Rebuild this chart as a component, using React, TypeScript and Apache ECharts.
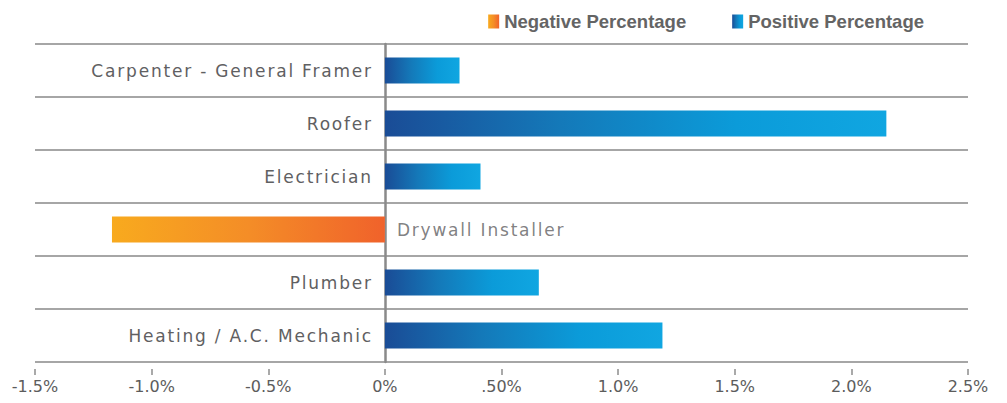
import React, { useEffect, useRef } from "react";
import * as echarts from "echarts";

const categories = [
  "Carpenter - General Framer",
  "Roofer",
  "Electrician",
  "Drywall Installer",
  "Plumber",
  "Heating / A.C. Mechanic",
];
const negativeValues: (number | string)[] = ["-", "-", "-", -1.17, "-", "-"];
const positiveValues: (number | string)[] = [0.32, 2.15, 0.41, "-", 0.66, 1.19];
const tickLabels = ["-1.5%", "-1.0%", "-0.5%", "0%", ".50%", "1.0%", "1.5%", "2.0%", "2.5%"];
const axisMin = -1.5;
const axisMax = 2.5;
const axisStep = 0.5;

const W = 1007;
const H = 403;
const GRID = { left: 35, right: 39, top: 44, bottom: 41 };

export default function App() {
  const ref = useRef<HTMLDivElement>(null);
  useEffect(() => {
    if (!ref.current) return;
    const chart = echarts.init(ref.current, undefined, { renderer: "svg" });
    const blueGrad = new echarts.graphic.LinearGradient(0, 0, 1, 0, [
      { offset: 0, color: "#1a4c96" },
      { offset: 0.35, color: "#1479b9" },
      { offset: 0.7, color: "#0b9bd9" },
      { offset: 1, color: "#10a6e1" },
    ]);
    const orangeGrad = new echarts.graphic.LinearGradient(0, 0, 1, 0, [
      { offset: 0, color: "#f8aa1e" },
      { offset: 0.5, color: "#f48d27" },
      { offset: 1, color: "#f0622b" },
    ]);
    const labelIdx = categories.map((c, i) => (negativeValues[i] !== "-" ? i : -1)).filter((i) => i >= 0);
    const fontFam = "'DejaVu Sans', sans-serif";
    const gridWidth = W - GRID.left - GRID.right;
    const zeroOffset = -(gridWidth * (0 - axisMin)) / (axisMax - axisMin);
    chart.setOption({
      animation: false,
      legend: {
        top: 7,
        right: 78,
        itemWidth: 11,
        itemHeight: 14,
        itemGap: 46,
        icon: "rect",
        textStyle: {
          color: "#646464",
          fontWeight: "bold",
          fontSize: 18.5,
          fontFamily: "'Liberation Sans', Arial, sans-serif",
        },
        data: ["Negative Percentage", "Positive Percentage"],
      },
      grid: { ...GRID, containLabel: false, outerBoundsMode: "none" },
      xAxis: {
        type: "value",
        min: axisMin,
        max: axisMax,
        interval: axisStep,
        offset: 7,
        axisLine: { show: false },
        axisTick: { show: true, length: 6, lineStyle: { color: "#8c8c8c", width: 1.5 } },
        splitLine: { show: false },
        axisLabel: {
          margin: 9,
          color: "#5c5c5c",
          fontSize: 16,
          fontFamily: fontFam,
          formatter: (v: number) => tickLabels[Math.round((v - axisMin) / axisStep)] ?? "",
        },
      },
      yAxis: {
        type: "category",
        inverse: true,
        data: categories,
        offset: zeroOffset,
        axisLine: { show: true, onZero: false, lineStyle: { color: "#8a8a8a", width: 2.5 } },
        axisTick: { show: false },
        splitLine: { show: true, lineStyle: { color: "#a6a6a6", width: 2 } },
        axisLabel: {
          margin: 12,
          color: "#5f6062",
          fontSize: 17,
          fontFamily: fontFam,
          formatter: (v: string) => (labelIdx.some((i) => categories[i] === v) ? "" : v),
        },
      },
      series: [
        {
          name: "Negative Percentage",
          type: "bar",
          stack: "total",
          barWidth: 26,
          data: negativeValues,
          itemStyle: { color: orangeGrad },
        },
        {
          name: "Positive Percentage",
          type: "bar",
          stack: "total",
          barWidth: 26,
          data: positiveValues,
          itemStyle: { color: blueGrad },
        },
        {
          type: "scatter",
          symbolSize: 0,
          silent: true,
          data: labelIdx.map((i) => [0, categories[i]]),
          label: {
            show: true,
            position: "right",
            distance: 12,
            color: "#5f6062",
            fontSize: 17,
            fontFamily: fontFam,
            formatter: (p: any) => p.value[1],
          },
        },
      ],
    });
    return () => chart.dispose();
  }, []);
  return (
    <>
      <style>{`text[style*="17px"], text[font-size="17"], text[font-size="17px"] { letter-spacing: 1.8px; }`}</style>
      <div
        ref={ref}
        style={{ position: "absolute", left: 0, top: 0, width: W, height: H }}
      />
    </>
  );
}
